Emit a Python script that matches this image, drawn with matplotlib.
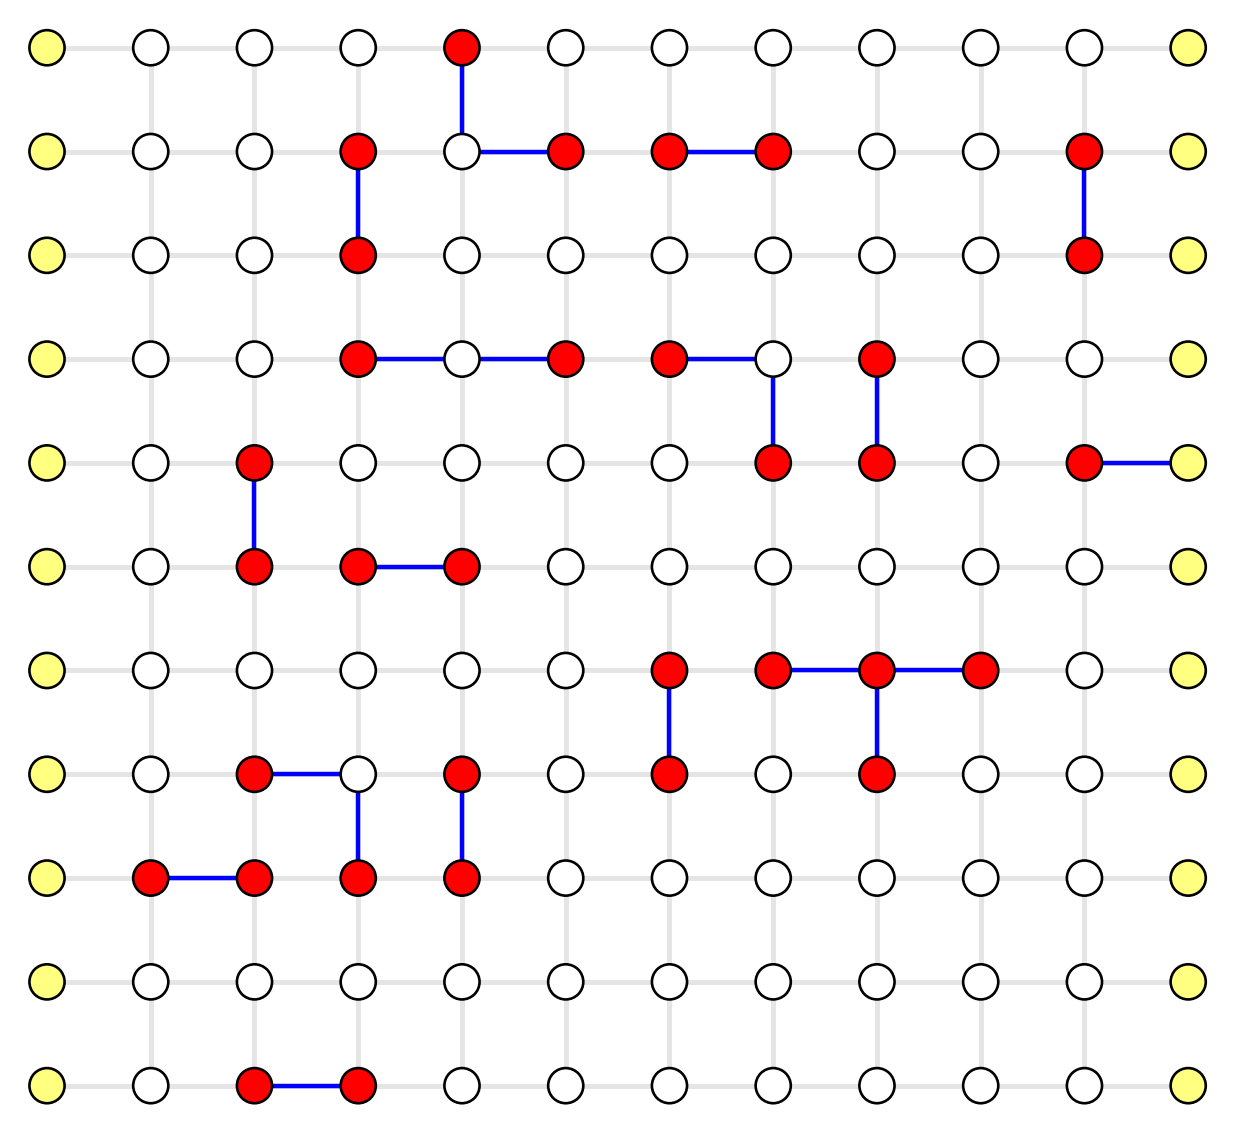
import matplotlib
matplotlib.use("Agg")
import matplotlib.pyplot as plt

n_cols = 12
n_rows = 11
# red (occupied) nodes: (row, col), row 0 = top
red_nodes = [
    (0, 4),
    (1, 3), (1, 5), (1, 6), (1, 7), (1, 10),
    (2, 3), (2, 10),
    (3, 3), (3, 5), (3, 6), (3, 8),
    (4, 2), (4, 7), (4, 8), (4, 10),
    (5, 2), (5, 3), (5, 4),
    (6, 6), (6, 7), (6, 8), (6, 9),
    (7, 2), (7, 4), (7, 6), (7, 8),
    (8, 1), (8, 2), (8, 3), (8, 4),
    (10, 2), (10, 3),
]
# blue bonds: ((row, col), (row, col))
blue_edges = [
    ((0, 4), (1, 4)), ((1, 4), (1, 5)), ((1, 6), (1, 7)),
    ((1, 3), (2, 3)), ((1, 10), (2, 10)),
    ((3, 3), (3, 4)), ((3, 4), (3, 5)),
    ((3, 6), (3, 7)), ((3, 7), (4, 7)),
    ((3, 8), (4, 8)), ((4, 10), (4, 11)),
    ((4, 2), (5, 2)), ((5, 3), (5, 4)),
    ((6, 6), (7, 6)), ((6, 7), (6, 8)), ((6, 8), (6, 9)), ((6, 8), (7, 8)),
    ((7, 2), (7, 3)), ((7, 3), (8, 3)), ((7, 4), (8, 4)),
    ((8, 1), (8, 2)), ((10, 2), (10, 3)),
]
boundary_cols = [0, n_cols - 1]

fig = plt.figure(figsize=(12.38, 11.36), dpi=100)
ax = fig.add_axes([0, 0, 1, 1])
ax.set_xlim(-0.453, 11.48)
ax.set_ylim(10.485, -0.46)
ax.axis("off")

grey = "#e5e5e5"
for r in range(n_rows):
    ax.plot([0, n_cols - 1], [r, r], color=grey, lw=3.6, zorder=1, solid_capstyle="butt")
for c in range(1, n_cols - 1):
    ax.plot([c, c], [0, n_rows - 1], color=grey, lw=3.6, zorder=1, solid_capstyle="butt")

for (r1, c1), (r2, c2) in blue_edges:
    ax.plot([c1, c2], [r1, r2], color="#0000ff", lw=3.2, zorder=2, solid_capstyle="butt")

red_set = set(red_nodes)
xs, ys, cols = [], [], []
for r in range(n_rows):
    for c in range(n_cols):
        xs.append(c)
        ys.append(r)
        if c in boundary_cols:
            cols.append("#ffff80")
        elif (r, c) in red_set:
            cols.append("#ff0000")
        else:
            cols.append("#ffffff")
ax.scatter(xs, ys, s=640, c=cols, edgecolors="black", linewidths=1.9, zorder=3)

fig.savefig("out.png", dpi=100)
